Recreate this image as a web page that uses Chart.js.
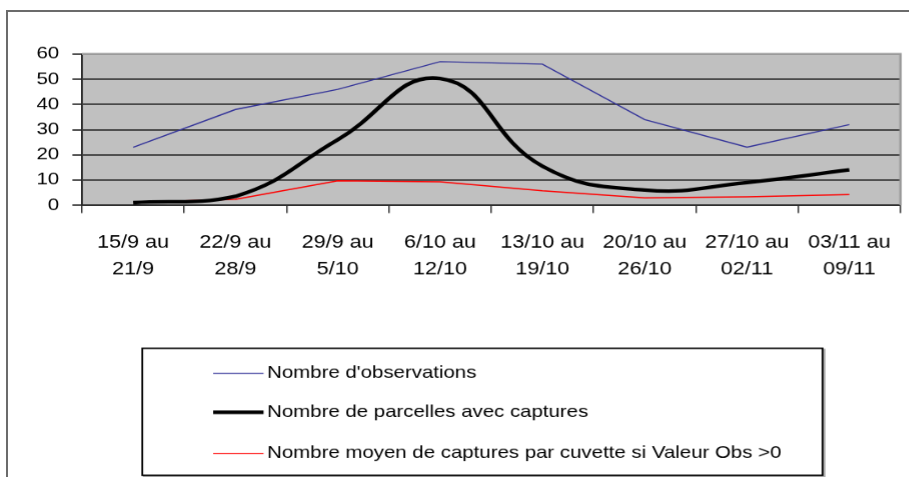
<!DOCTYPE html>
<html>
<head>
<meta charset="utf-8">
<script src="https://cdn.jsdelivr.net/npm/chart.js@4/dist/chart.umd.min.js"></script>
<style>
  html, body { margin: 0; padding: 0; background: #fff; overflow: hidden; width: 909px; height: 477px; }
  #frame { position: absolute; left: 6px; top: 10px; width: 1000px; height: 600px;
           border-left: 2px solid #6b6b6b; border-top: 2px solid #6b6b6b; }
  #wrap { position: absolute; left: 0; top: 0; width: 758px; height: 477px;
          transform: scaleX(1.2); transform-origin: 0 0; }
</style>
</head>
<body>
<div id="frame"></div>
<div id="wrap"><canvas id="c"></canvas></div>
<script>
const categories = [
  ["15/9 au", "21/9"], ["22/9 au", "28/9"], ["29/9 au", "5/10"], ["6/10 au", "12/10"],
  ["13/10 au", "19/10"], ["20/10 au", "26/10"], ["27/10 au", "02/11"], ["03/11 au", "09/11"]
];
const seriesNames = [
  "Nombre d'observations",
  "Nombre de parcelles avec captures",
  "Nombre moyen de captures par cuvette si Valeur Obs >0"
];
const observations = [23, 38, 46, 57, 56, 34, 23, 32];
const parcelles = [1, 3.5, 26, 50.3, 15.5, 6, 9, 14];
const moyenne = [1.2, 2.3, 9.7, 9.3, 5.7, 2.9, 3.3, 4.2];
const yTicks = [0, 10, 20, 30, 40, 50, 60];

const FONT = "'Liberation Sans', Arial, sans-serif";

const plotBg = {
  id: 'plotBg',
  beforeDraw(chart) {
    const {ctx, chartArea: a} = chart;
    ctx.save();
    ctx.fillStyle = '#c0c0c0';
    ctx.fillRect(a.left, a.top, a.right - a.left, a.bottom - a.top);
    ctx.restore();
  },
  afterDatasetsDraw(chart) {
    const {ctx, chartArea: a} = chart;
    ctx.save();
    ctx.strokeStyle = '#9a9a9a';
    ctx.lineWidth = 2;
    ctx.beginPath();
    ctx.moveTo(a.left, a.top);
    ctx.lineTo(a.right, a.top);
    ctx.lineTo(a.right, a.bottom);
    ctx.stroke();
    ctx.restore();
  }
};

const boxLegend = {
  id: 'boxLegend',
  afterDraw(chart) {
    const ctx = chart.ctx;
    const x0 = 118.5, y0 = 348, x1 = 685, y1 = 475;
    ctx.save();
    ctx.strokeStyle = '#b0b0b0';
    ctx.lineWidth = 2;
    ctx.strokeRect(x0 + 1.5, y0 + 1.5, x1 - x0, y1 - y0);
    ctx.strokeStyle = '#000';
    ctx.lineWidth = 1.5;
    ctx.fillStyle = '#fff';
    ctx.fillRect(x0, y0, x1 - x0, y1 - y0);
    ctx.strokeRect(x0, y0, x1 - x0, y1 - y0);
    const rows = [373, 412, 453];
    chart.data.datasets.forEach((ds, i) => {
      const y = rows[i];
      ctx.strokeStyle = ds.borderColor;
      ctx.lineWidth = ds.borderWidth;
      ctx.beginPath();
      ctx.moveTo(177.5, y);
      ctx.lineTo(219.5, y);
      ctx.stroke();
      ctx.fillStyle = '#000';
      ctx.font = '17px ' + FONT;
      ctx.textBaseline = 'middle';
      ctx.textAlign = 'left';
      ctx.fillText(ds.label, 222.5, y);
    });
    ctx.restore();
  }
};

new Chart(document.getElementById('c'), {
  type: 'line',
  data: {
    labels: categories,
    datasets: [
      { label: seriesNames[0], data: observations, borderColor: '#333399', borderWidth: 1.2,
        pointRadius: 0, tension: 0, fill: false },
      { label: seriesNames[1], data: parcelles, borderColor: '#000000', borderWidth: 3.6,
        pointRadius: 0, tension: 0.45, fill: false },
      { label: seriesNames[2], data: moyenne, borderColor: '#ff0000', borderWidth: 1.2,
        pointRadius: 0, tension: 0, fill: false }
    ]
  },
  options: {
    responsive: true,
    maintainAspectRatio: false,
    devicePixelRatio: 1.2,
    animation: false,
    events: [],
    layout: { padding: { left: 0, right: 5.5, top: 54, bottom: 0 } },
    plugins: { legend: { display: false }, tooltip: { enabled: false }, title: { display: false } },
    scales: {
      x: {
        offset: true,
        grid: { display: true, drawOnChartArea: false, drawTicks: true, tickLength: 8,
                color: '#333', lineWidth: 1.2, offset: true },
        border: { display: true, color: '#222', width: 1.5 },
        ticks: { color: '#000', font: { family: FONT, size: 18, lineHeight: 1.5 },
                 padding: 16, maxRotation: 0, autoSkip: false },
        afterFit(s) { s.height = 272; }
      },
      y: {
        min: 0, max: 60,
        afterBuildTicks(s) { s.ticks = yTicks.map(v => ({ value: v })); },
        grid: { color: '#2e2e2e', lineWidth: 1.5, tickLength: 8 },
        border: { display: true, color: '#222', width: 1.5 },
        ticks: { color: '#000', font: { family: FONT, size: 17 }, padding: 11 },
        afterFit(s) { s.width = 68.3; }
      }
    }
  },
  plugins: [plotBg, boxLegend]
});
</script>
</body>
</html>
